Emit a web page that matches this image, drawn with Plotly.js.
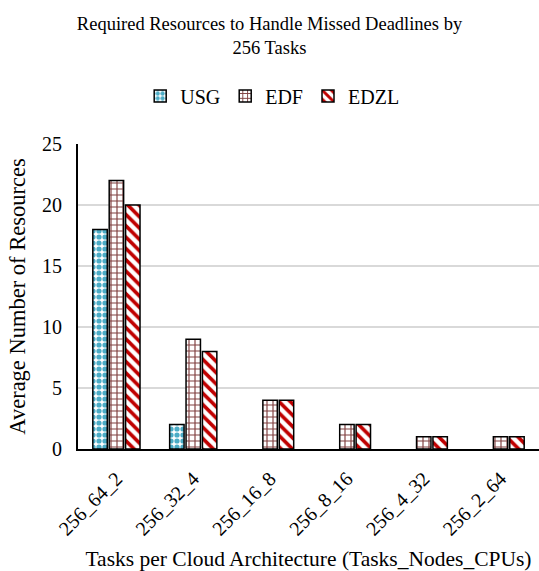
<!DOCTYPE html>
<html><head><meta charset="utf-8">
<script src="https://cdn.plot.ly/plotly-3.0.1.min.js"></script>
<style>html,body{margin:0;padding:0;background:#fff;}#c{width:539px;height:571px;}</style>
</head><body><div id="c"></div>
<script>
const categories = ["256_64_2","256_32_4","256_16_8","256_8_16","256_4_32","256_2_64"];
const usg = [18, 2, 0, 0, 0, 0];
const edf = [22, 9, 4, 2, 1, 1];
const edzl = [20, 8, 4, 2, 1, 1];

const FAM = "Liberation Serif, Times New Roman, serif";
const f = (s) => ({family: FAM, size: s, color: "#000"});
const ln = (vals) => ({color: "#000", width: vals.map(v => v > 0 ? 1.5 : 0)});

const traces = [
  {type: "bar", name: "USG", x: categories, y: usg,
   marker: {color: "#fff", line: ln(usg), pattern: {shape: ".", fgcolor: "#4bacc6", bgcolor: "#fff", size: 6, solidity: 0.6}}},
  {type: "bar", name: "EDF", x: categories, y: edf,
   marker: {color: "#fff", line: ln(edf), pattern: {shape: "+", fgcolor: "#7f3f3f", bgcolor: "#fff", size: 6, solidity: 0.35}}},
  {type: "bar", name: "EDZL", x: categories, y: edzl,
   marker: {color: "#fff", line: ln(edzl), pattern: {shape: "\\", fgcolor: "#c00000", bgcolor: "#fff", size: 8, solidity: 0.45}}}
];

const layout = {
  width: 539, height: 571,
  margin: {l: 78, r: 0, t: 144, b: 122},
  paper_bgcolor: "#fff", plot_bgcolor: "#fff",
  font: f(20),
  barmode: "group", bargap: 0.36, bargroupgap: 0.12,
  title: {text: "Required Resources to Handle Missed Deadlines by<br>256 Tasks", x: 0.5, xref: "container", xanchor: "center",
          y: 0.947, yref: "container", yanchor: "middle", font: f(18.5)},
  legend: {orientation: "h", x: 0.505, xref: "container", xanchor: "center", y: 0.832, yref: "container", yanchor: "middle",
           font: f(20), traceorder: "normal", itemwidth: 30},
  xaxis: {type: "category", tickangle: -45, showline: true, linecolor: "#000", linewidth: 2, ticks: "", showgrid: false,
          tickfont: f(20), ticklabelstandoff: 8,
          title: {text: "Tasks per Cloud Architecture (Tasks_Nodes_CPUs)", font: f(21.5), standoff: 14},
          automargin: false},
  yaxis: {range: [0, 25], dtick: 5, showline: true, linecolor: "#000", linewidth: 2, ticks: "", showgrid: true, gridcolor: "#d9d9d9", gridwidth: 1.5,
          zeroline: false, tickfont: f(20), ticklabelstandoff: 10,
          title: {text: "Average Number of Resources", font: f(22.5), standoff: 10},
          automargin: false}
};
Plotly.newPlot("c", traces, layout, {displayModeBar: false, staticPlot: true});
</script></body></html>
